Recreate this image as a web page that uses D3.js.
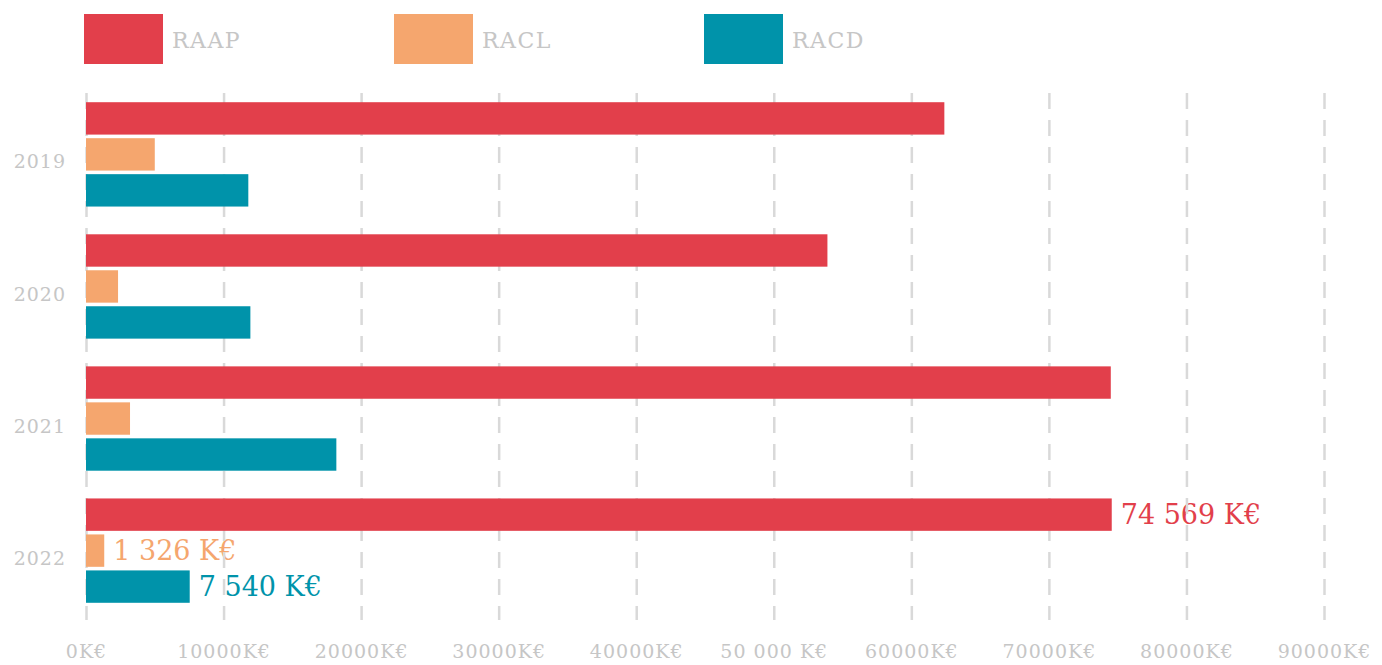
<!DOCTYPE html>
<html>
<head>
<meta charset="utf-8">
<script src="https://cdn.jsdelivr.net/npm/d3@7"></script>
<style>
  body { margin: 0; background: #fff; }
  svg { display: block; font-family: 'DejaVu Serif', serif; }
  .grid line { stroke: #d9d9d9; stroke-width: 2.5; stroke-dasharray: 16, 11; }
  .grid text, .years text { fill: #c6c6c6; font-family: 'DejaVu Serif', serif; }
  .grid text { font-size: 19px; letter-spacing: 1px; }
  .years text { font-size: 19px; letter-spacing: 1px; }
  .legend text { fill: #c6c6c6; font-size: 22px; letter-spacing: 1.5px; }
  .value { font-size: 27px; }
</style>
</head>
<body>
<svg id="chart" width="1382" height="665"></svg>
<script>
const years = ['2019', '2020', '2021', '2022'];
const series = ['RAAP', 'RACL', 'RACD'];
const raap = [62400, 53900, 74500, 74569];
const racl = [5000, 2330, 3200, 1326];
const racd = [11800, 11950, 18200, 7540];
const colors = ['#e23f4b', '#f5a66e', '#0093aa'];
const xTicks = [0, 10000, 20000, 30000, 40000, 50000, 60000, 70000, 80000, 90000];
const xTickLabels = ['0K€', '10000K€', '20000K€', '30000K€', '40000K€',
  '50 000 K€', '60000K€', '70000K€', '80000K€', '90000K€'];
// only the last year carries value labels
const labelYear = '2022';
const valueLabels = ['74 569 K€', '1 326 K€', '7 540 K€'];

const values = { RAAP: raap, RACL: racl, RACD: racd };
const data = years.map(function(y, i) {
  return { year: y, items: series.map(function(s) { return { key: s, value: values[s][i] }; }) };
});

const svg = d3.select('#chart');

let x = d3.scaleLinear()
  .domain([0, 90000])
  .range([86, 1324]);

let y0 = d3.scaleBand()
  .domain(years)
  .range([89, 616])
  .paddingInner(0.21)
  .paddingOuter(0.1);

let y1 = d3.scaleBand()
  .domain(series)
  .range([0, y0.bandwidth()])
  .paddingInner(0.1);

let color = d3.scaleOrdinal()
  .domain(series)
  .range(colors);

// value labels (under the grid)
let last = data.find(function(d) { return d.year === labelYear; });
svg.append('g')
  .selectAll('text')
  .data(last.items)
  .enter().append('text')
  .attr('class', 'value')
  .attr('x', function(d) { return x(d.value) + 9; })
  .attr('y', function(d) { return y0(labelYear) + y1(d.key) + y1.bandwidth() / 2; })
  .attr('dy', '0.36em')
  .style('fill', function(d) { return color(d.key); })
  .text(function(d, i) { return valueLabels[i]; });

// grid + x labels
let x_axis = d3.axisBottom(x)
  .tickValues(xTicks)
  .tickFormat(function(d, i) { return xTickLabels[i]; })
  .tickSize(0)
  .tickPadding(25);

let grid = svg.append('g')
  .attr('class', 'grid')
  .attr('transform', 'translate(0,620)')
  .call(x_axis);
grid.select('.domain').remove();
grid.selectAll('.tick line')
  .attr('y1', 93 - 620)
  .attr('y2', 0);

// bars
let groups = svg.selectAll('.year')
  .data(data)
  .enter().append('g')
  .attr('class', 'year')
  .attr('transform', function(d) { return 'translate(0,' + y0(d.year) + ')'; });

groups.selectAll('rect')
  .data(function(d) { return d.items; })
  .enter().append('rect')
  .attr('x', x(0))
  .attr('y', function(d) { return y1(d.key); })
  .attr('width', function(d) { return x(d.value) - x(0); })
  .attr('height', y1.bandwidth())
  .style('fill', function(d) { return color(d.key); });

// year labels
let y_axis = d3.axisLeft(y0)
  .tickSize(0)
  .tickPadding(0);

let ya = svg.append('g')
  .attr('class', 'years')
  .attr('transform', 'translate(66,8)')
  .call(y_axis);
ya.select('.domain').remove();

// legend
let lx = d3.scaleBand()
  .domain(series)
  .range([84, 84 + 3 * 310]);

let legend = svg.append('g')
  .attr('class', 'legend')
  .selectAll('g')
  .data(series)
  .enter().append('g')
  .attr('transform', function(d) { return 'translate(' + lx(d) + ',14)'; });

legend.append('rect')
  .attr('width', 79)
  .attr('height', 50)
  .style('fill', function(d) { return color(d); });

legend.append('text')
  .attr('x', 88)
  .attr('y', 26)
  .attr('dy', '0.36em')
  .text(function(d) { return d; });
</script>
</body>
</html>
